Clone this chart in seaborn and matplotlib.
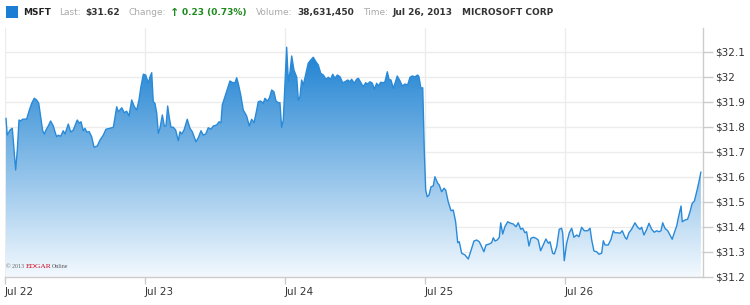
import numpy as np
import pandas as pd
import matplotlib
matplotlib.use("Agg")
import matplotlib.pyplot as plt
import seaborn as sns
from matplotlib.colors import LinearSegmentedColormap
from matplotlib.patches import Rectangle
from matplotlib.ticker import FuncFormatter

sns.set_theme(style="white")
plt.rcParams["font.family"] = ["DejaVu Sans"]

# ---- data: time position (days since Jul 22 open) and price ----
day_pos = [
    0.007, 0.016, 0.036, 0.052, 0.059, 0.076, 0.088, 0.100, 0.112, 0.126, 0.155, 0.174, 0.191, 0.209,
    0.226, 0.241, 0.255, 0.269, 0.281, 0.293, 0.309, 0.326, 0.345, 0.357, 0.369, 0.381, 0.398, 0.416,
    0.429, 0.452, 0.469, 0.488, 0.516, 0.531, 0.543, 0.559, 0.571, 0.584, 0.602, 0.619, 0.636, 0.659,
    0.679, 0.702, 0.721, 0.750, 0.774,
    0.798, 0.809, 0.821, 0.834, 0.852, 0.869, 0.886, 0.905, 0.924, 0.941, 0.957, 0.971, 0.988, 1.005,
    1.024, 1.036, 1.048, 1.059, 1.071, 1.084, 1.095, 1.107, 1.124, 1.138, 1.150, 1.162, 1.174, 1.186,
    1.202, 1.219, 1.238, 1.250, 1.262, 1.279, 1.302, 1.321, 1.338, 1.364, 1.381, 1.400, 1.416, 1.434,
    1.452, 1.471, 1.488, 1.512, 1.529, 1.543, 1.552, 1.571, 1.591, 1.607, 1.624,
    1.643, 1.655, 1.666, 1.684, 1.702, 1.726, 1.745, 1.762, 1.779, 1.798, 1.809, 1.826, 1.845, 1.857,
    1.874, 1.888, 1.905, 1.921, 1.936, 1.952, 1.964, 1.976, 1.988, 2.000, 2.012, 2.024, 2.036, 2.048,
    2.064, 2.084, 2.095, 2.107, 2.119, 2.131, 2.150, 2.166, 2.184, 2.202, 2.221, 2.238, 2.255, 2.274,
    2.293, 2.309, 2.326, 2.341, 2.357, 2.374, 2.393, 2.412,
    2.429, 2.448, 2.464, 2.476, 2.495, 2.512, 2.524, 2.543, 2.559, 2.576, 2.591, 2.607, 2.624, 2.638,
    2.655, 2.666, 2.684, 2.702, 2.714, 2.731, 2.743, 2.757, 2.774, 2.786, 2.802, 2.821, 2.838, 2.857,
    2.876, 2.893, 2.909, 2.929, 2.948, 2.957, 2.971, 2.984, 2.995, 3.005, 3.016, 3.029, 3.043, 3.059,
    3.071, 3.091, 3.102, 3.119, 3.136, 3.148, 3.166, 3.186, 3.202, 3.219, 3.234, 3.245,
    3.262, 3.286, 3.309, 3.326, 3.350, 3.369, 3.388, 3.405, 3.421, 3.436, 3.459, 3.476, 3.488, 3.500,
    3.516, 3.531, 3.541, 3.555, 3.571, 3.591, 3.612, 3.631, 3.650, 3.666, 3.684, 3.698, 3.714, 3.726,
    3.743, 3.757, 3.774, 3.793, 3.809, 3.826, 3.845, 3.864, 3.881, 3.893, 3.912, 3.924, 3.941, 3.959,
    3.976, 3.984, 3.995, 4.012, 4.031, 4.048, 4.064,
    4.084, 4.100, 4.119, 4.138, 4.162, 4.179, 4.191, 4.207, 4.226, 4.243, 4.262, 4.274, 4.286, 4.309,
    4.329, 4.345, 4.357, 4.376, 4.393, 4.409, 4.429, 4.441, 4.457, 4.476, 4.500, 4.519, 4.536, 4.548,
    4.564, 4.584, 4.600, 4.619, 4.638, 4.655, 4.671, 4.686, 4.698, 4.714, 4.734, 4.750, 4.766, 4.781,
    4.798, 4.809, 4.829, 4.838, 4.857, 4.876, 4.893, 4.909, 4.924, 4.941, 4.957, 4.971,
]
price = [
    31.835, 31.768, 31.788, 31.795, 31.748, 31.628, 31.708, 31.828, 31.824, 31.831, 31.832, 31.868, 31.895, 31.915,
    31.908, 31.895, 31.841, 31.785, 31.772, 31.788, 31.804, 31.824, 31.804, 31.781, 31.761, 31.767, 31.763, 31.785,
    31.772, 31.812, 31.780, 31.788, 31.828, 31.815, 31.821, 31.785, 31.795, 31.780, 31.781, 31.761, 31.719, 31.724,
    31.748, 31.767, 31.791, 31.795, 31.799,
    31.881, 31.861, 31.868, 31.877, 31.857, 31.863, 31.844, 31.908, 31.881, 31.868, 31.908, 31.961, 32.011, 32.008,
    31.975, 32.001, 32.017, 31.901, 31.895, 31.855, 31.775, 31.795, 31.848, 31.804, 31.804, 31.884, 31.835, 31.799,
    31.799, 31.788, 31.745, 31.781, 31.772, 31.788, 31.831, 31.795, 31.781, 31.741, 31.757, 31.785, 31.768, 31.772,
    31.797, 31.791, 31.804, 31.808, 31.821, 31.817, 31.888, 31.921, 31.955, 31.984, 31.978,
    31.977, 31.997, 31.975, 31.928, 31.868, 31.844, 31.804, 31.831, 31.817, 31.868, 31.901, 31.904, 31.895, 31.915,
    31.904, 31.915, 31.948, 31.941, 31.904, 31.897, 31.897, 31.799, 31.828, 31.975, 32.119, 31.981, 32.021, 32.084,
    32.028, 31.999, 31.908, 31.921, 31.988, 31.968, 32.015, 32.055, 32.068, 32.079, 32.061, 32.048, 32.015, 32.008,
    31.991, 31.999, 31.991, 32.011, 31.995, 32.008, 32.001, 31.977,
    31.981, 31.988, 31.981, 31.991, 31.975, 31.991, 31.995, 31.977, 31.961, 31.977, 31.972, 31.981, 31.975, 31.951,
    31.975, 31.964, 31.979, 31.977, 31.981, 32.021, 31.991, 31.988, 31.955, 31.975, 32.004, 31.985, 31.964, 31.972,
    31.968, 31.999, 32.004, 32.001, 32.008, 32.001, 31.955, 31.957, 31.708, 31.548, 31.521, 31.528, 31.561, 31.564,
    31.601, 31.575, 31.568, 31.541, 31.555, 31.548, 31.501, 31.465, 31.468, 31.421, 31.337, 31.341,
    31.295, 31.288, 31.272, 31.301, 31.344, 31.348, 31.341, 31.321, 31.301, 31.328, 31.332, 31.337, 31.357, 31.344,
    31.348, 31.359, 31.417, 31.372, 31.401, 31.421, 31.415, 31.412, 31.401, 31.417, 31.391, 31.395, 31.377, 31.381,
    31.324, 31.355, 31.359, 31.355, 31.348, 31.305, 31.328, 31.352, 31.335, 31.341, 31.295, 31.292, 31.321, 31.391,
    31.395, 31.375, 31.265, 31.335, 31.377, 31.395, 31.359,
    31.368, 31.361, 31.399, 31.385, 31.385, 31.395, 31.348, 31.304, 31.301, 31.291, 31.295, 31.345, 31.328, 31.328,
    31.351, 31.385, 31.377, 31.377, 31.375, 31.385, 31.359, 31.351, 31.377, 31.391, 31.417, 31.399, 31.391, 31.399,
    31.368, 31.391, 31.415, 31.391, 31.379, 31.385, 31.381, 31.385, 31.417, 31.395, 31.385, 31.368, 31.351, 31.377,
    31.404, 31.435, 31.484, 31.421, 31.428, 31.431, 31.461, 31.495, 31.503, 31.541, 31.581, 31.620,
]
x_tick_days = [0, 1, 2, 3, 4]
x_tick_labels = ["Jul 22", "Jul 23", "Jul 24", "Jul 25", "Jul 26"]
y_ticks = [31.2, 31.3, 31.4, 31.5, 31.6, 31.7, 31.8, 31.9, 32.0, 32.1]

header = [  # (text, color, bold)
    ("MSFT", "#222222", True),
    ("Last:", "#aaaaaa", False),
    ("$31.62", "#333333", True),
    ("Change:", "#aaaaaa", False),
    ("\u2191", "#1e8a1e", True),
    ("0.23 (0.73%)", "#1e8a1e", True),
    ("Volume:", "#aaaaaa", False),
    ("38,631,450", "#333333", True),
    ("Time:", "#aaaaaa", False),
    ("Jul 26, 2013", "#333333", True),
    ("MICROSOFT CORP", "#333333", True),
]
header_gaps = [0, 8, 5, 8, 4, 3, 9, 5, 9, 5, 9]  # spacing before each item, px

df = pd.DataFrame({"day": day_pos, "price": price})

W, H = 750, 305
fig = plt.figure(figsize=(W / 100, H / 100), dpi=100)
fig.patch.set_facecolor("white")
ax = fig.add_axes([5 / W, 28 / H, 698 / W, 249 / H])
ax.set_facecolor("white")

xmax = 4.986
ymin, ymax = 31.2, 31.2 + 0.1 * 249 / 25
ax.set_xlim(0, xmax)
ax.set_ylim(ymin, ymax)

# grid
ax.set_xticks(x_tick_days)
ax.set_yticks(y_ticks)
ax.grid(True, color="#ececec", lw=1.0, zorder=0)
ax.set_axisbelow(True)

# gradient fill under the line
poly = ax.fill_between(df["day"], df["price"], ymin, color="none", lw=0)
cmap = LinearSegmentedColormap.from_list("g", [(0.0, "#f3f9fe"), (0.904, "#1e82d2"), (1.0, "#1a7ccf")])
grad = np.linspace(0, 1, 256).reshape(-1, 1)
im = ax.imshow(grad, extent=[0, xmax, ymin, ymax], origin="lower", aspect="auto", cmap=cmap, zorder=1)
im.set_clip_path(poly.get_paths()[0], transform=ax.transData)

sns.lineplot(data=df, x="day", y="price", ax=ax, color="#2a8ad8", lw=1.0, zorder=3, estimator=None)
ax.set_xlabel("")
ax.set_ylabel("")

# spines
for s in ["top", "left"]:
    ax.spines[s].set_visible(False)
ax.spines["bottom"].set_color("#cccccc")
ax.spines["right"].set_color("#cccccc")
ax.spines["bottom"].set_linewidth(1)
ax.spines["right"].set_linewidth(1)

# ticks
ax.yaxis.tick_right()
ax.yaxis.set_major_formatter(FuncFormatter(lambda v, p: f"${v:g}"))
ax.tick_params(axis="y", right=True, left=False, length=7, width=1, color="#cccccc",
               pad=2, labelsize=7.5, labelcolor="#333333")
ax.tick_params(axis="x", bottom=True, length=5, width=1, color="#cccccc",
               pad=2, labelsize=7.5, labelcolor="#333333")
ax.set_xticklabels(x_tick_labels)
for lab in ax.get_xticklabels():
    lab.set_horizontalalignment("left")

# header
fig.patches.append(Rectangle((5.5 / W, 1 - 18 / H), 12 / W, 12 / H, transform=fig.transFigure,
                             facecolor="#1a7fd4", edgecolor="none"))
renderer = fig.canvas.get_renderer()
hy = 1 - 12.5 / H
xp = 23.0
for (txt, col, bold), gap in zip(header, header_gaps):
    xp += gap
    fs = 8 if txt == "\u2191" else 6.5
    t = fig.text(xp / W, hy, txt, color=col, fontsize=fs, fontweight="bold" if bold else "normal",
                 va="center", ha="left")
    xp = t.get_window_extent(renderer).x1

# copyright
cy = 1 - 266 / H
xp = 6.0
for txt, col, fs in [("\u00a9 2013 ", "#666666", 4.3), ("EDGAR", "#d0021b", 5.4), ("Online", "#555555", 4.2)]:
    t = fig.text(xp / W, cy, txt, color=col, fontsize=fs, family="Liberation Serif", va="center", ha="left")
    xp = t.get_window_extent(renderer).x1

fig.savefig("out.png", dpi=100, facecolor="white")
